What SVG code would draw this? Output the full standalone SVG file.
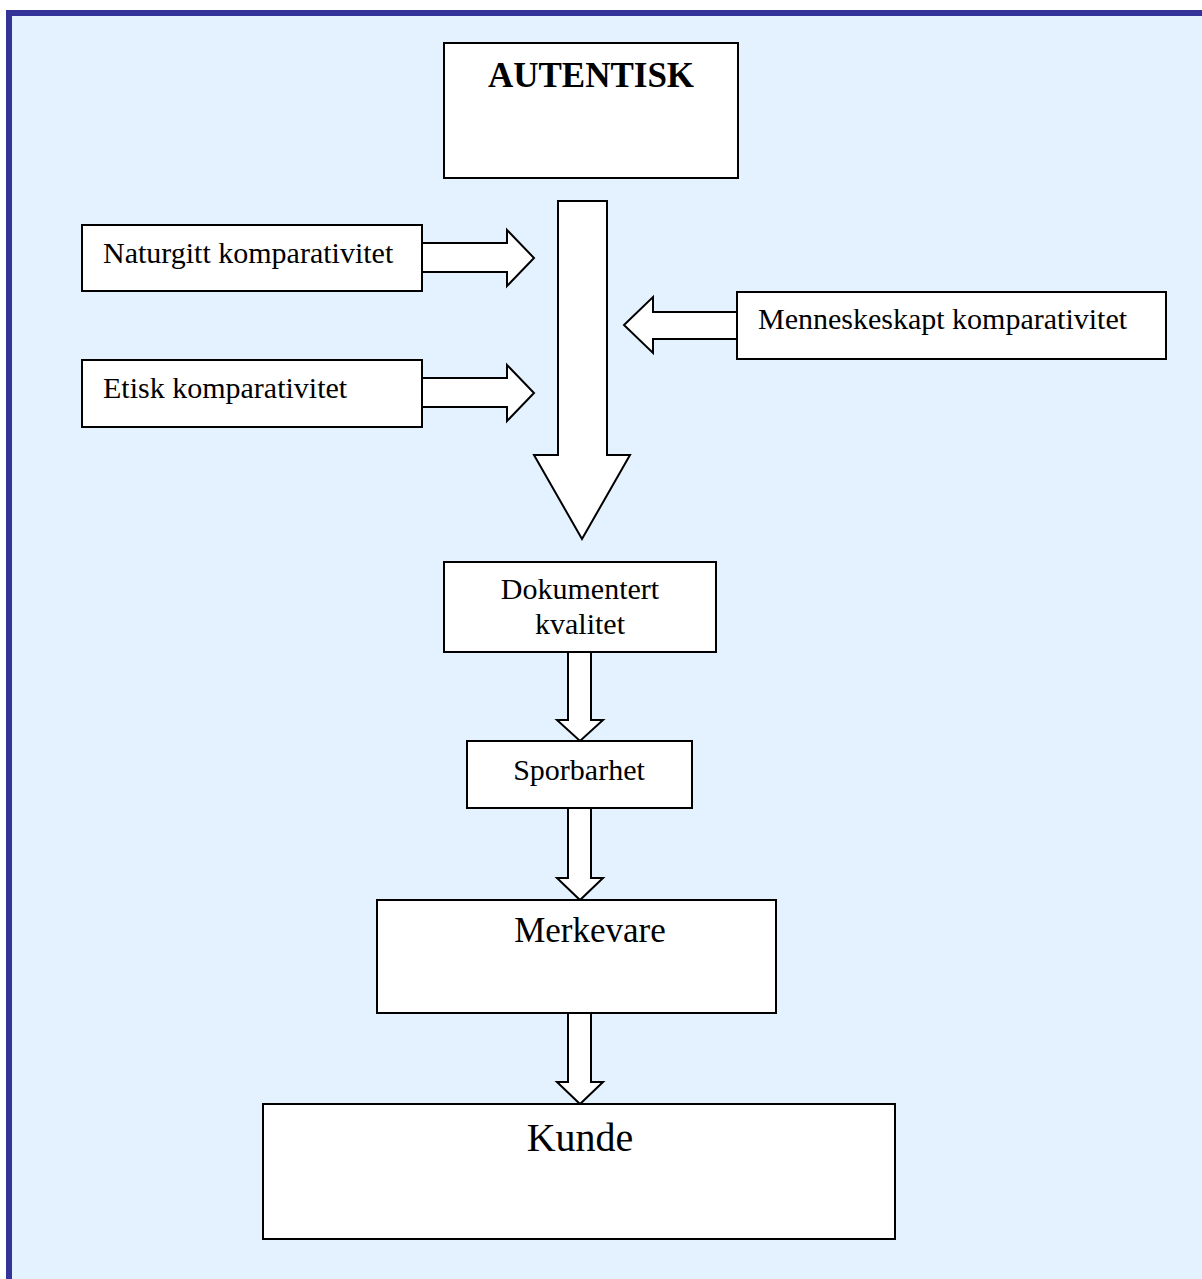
<svg xmlns="http://www.w3.org/2000/svg" width="1202" height="1279" viewBox="0 0 1202 1279">
<style>
.box{fill:#fff;stroke:#000;stroke-width:2}
.arr{fill:#fff;stroke:#000;stroke-width:2;stroke-linejoin:miter}
.t{font-family:"Liberation Serif","Times New Roman",serif;fill:#000}
</style>
<rect x="0" y="0" width="1202" height="1279" fill="#fff"/>
<rect x="6" y="10" width="1196" height="1269" fill="#E4F1FE"/>
<rect x="6" y="10" width="1196" height="6" fill="#333399"/>
<rect x="6" y="10" width="6" height="1269" fill="#333399"/>
<g id="connectors">
<polygon class="arr" points="558,201 607,201 607,455 630,455 582,539 534,455 558,455"/>
<polygon class="arr" points="422,243 507,243 507,230 534,258 507,286 507,272 422,272"/>
<polygon class="arr" points="422,378 507,378 507,365 534,393 507,421 507,407 422,407"/>
<polygon class="arr" points="737,312 653,312 653,297 624,325 653,353 653,339 737,339"/>
<polygon class="arr" points="568,652 591,652 591,720 603,720 580,741 557,720 568,720"/>
<polygon class="arr" points="568,808 591,808 591,878 603,878 580,900 557,878 568,878"/>
<polygon class="arr" points="568,1013 591,1013 591,1082 603,1082 580,1104 557,1082 568,1082"/>
</g>
<g id="autentisk">
<rect class="box" x="444" y="43" width="294" height="135"/>
<text class="t" x="591" y="87" font-size="35" font-weight="bold" text-anchor="middle">AUTENTISK</text>
</g>
<g id="naturgitt">
<rect class="box" x="82" y="225" width="340" height="66"/>
<text class="t" x="103" y="263" font-size="30">Naturgitt komparativitet</text>
</g>
<g id="etisk">
<rect class="box" x="82" y="360" width="340" height="67"/>
<text class="t" x="103" y="398" font-size="30">Etisk komparativitet</text>
</g>
<g id="menneskeskapt">
<rect class="box" x="737" y="292" width="429" height="67"/>
<text class="t" x="758" y="329" font-size="30">Menneskeskapt komparativitet</text>
</g>
<g id="dokumentert">
<rect class="box" x="444" y="562" width="272" height="90"/>
<text class="t" x="580" y="599" font-size="30" text-anchor="middle">Dokumentert</text>
<text class="t" x="580" y="634" font-size="30" text-anchor="middle">kvalitet</text>
</g>
<g id="sporbarhet">
<rect class="box" x="467" y="741" width="225" height="67"/>
<text class="t" x="579" y="780" font-size="30" text-anchor="middle">Sporbarhet</text>
</g>
<g id="merkevare">
<rect class="box" x="377" y="900" width="399" height="113"/>
<text class="t" x="590" y="942" font-size="35" text-anchor="middle">Merkevare</text>
</g>
<g id="kunde">
<rect class="box" x="263" y="1104" width="632" height="135"/>
<text class="t" x="580" y="1151" font-size="40" text-anchor="middle">Kunde</text>
</g>
</svg>
